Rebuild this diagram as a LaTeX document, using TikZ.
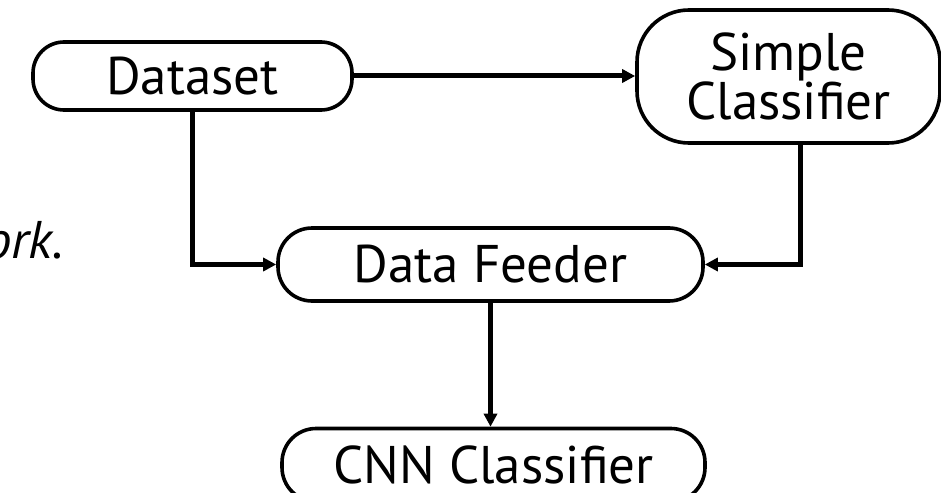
\documentclass[tikz,border=0pt]{standalone}
\usepackage{fontspec}
\setmainfont{PT Sans}
\usetikzlibrary{positioning,arrows.meta}

\begin{document}
\begin{tikzpicture}[x=1pt, y=-1pt,
    flowbox/.style={draw, line width=3.6pt, inner sep=0pt, align=center,
        font=\fontsize{53}{48}\selectfont},
    flowarrow/.style={line width=5pt, -{Triangle[length=13pt,width=13pt]}}]
    \useasboundingbox (0,0) rectangle (941,492);

    % Define node positions (pixels, y downwards)
    \node[flowbox, minimum width=319pt, minimum height=68pt, rounded corners=31pt] (Dataset) at (192.5,76) {Dataset};
    \node[flowbox, minimum width=303pt, minimum height=133pt, rounded corners=52pt] (Simple) at (788.5,76.5) {Simple\\Classifier};
    \node[flowbox, minimum width=425pt, minimum height=73pt, rounded corners=34pt] (Feeder) at (490.5,264.5) {Data Feeder};
    \node[flowbox, minimum width=423pt, minimum height=73pt, rounded corners=34pt] (CNN) at (493.5,465) {CNN Classifier};
    \node[anchor=base east, inner sep=0pt, font=\fontsize{53}{48}\selectfont\itshape] (caption) at (64,258) {ork.};

    % Draw edges
    \draw[flowarrow] (Dataset.east) -- (Dataset.east -| Simple.west);
    \draw[flowarrow] (Dataset.south) |- (Feeder.west);
    \draw[flowarrow] ([xshift=12pt]Simple.south) |- (Feeder.east);
    \draw[flowarrow] (Feeder.south) -- (Feeder.south |- CNN.north);
\end{tikzpicture}
\end{document}
